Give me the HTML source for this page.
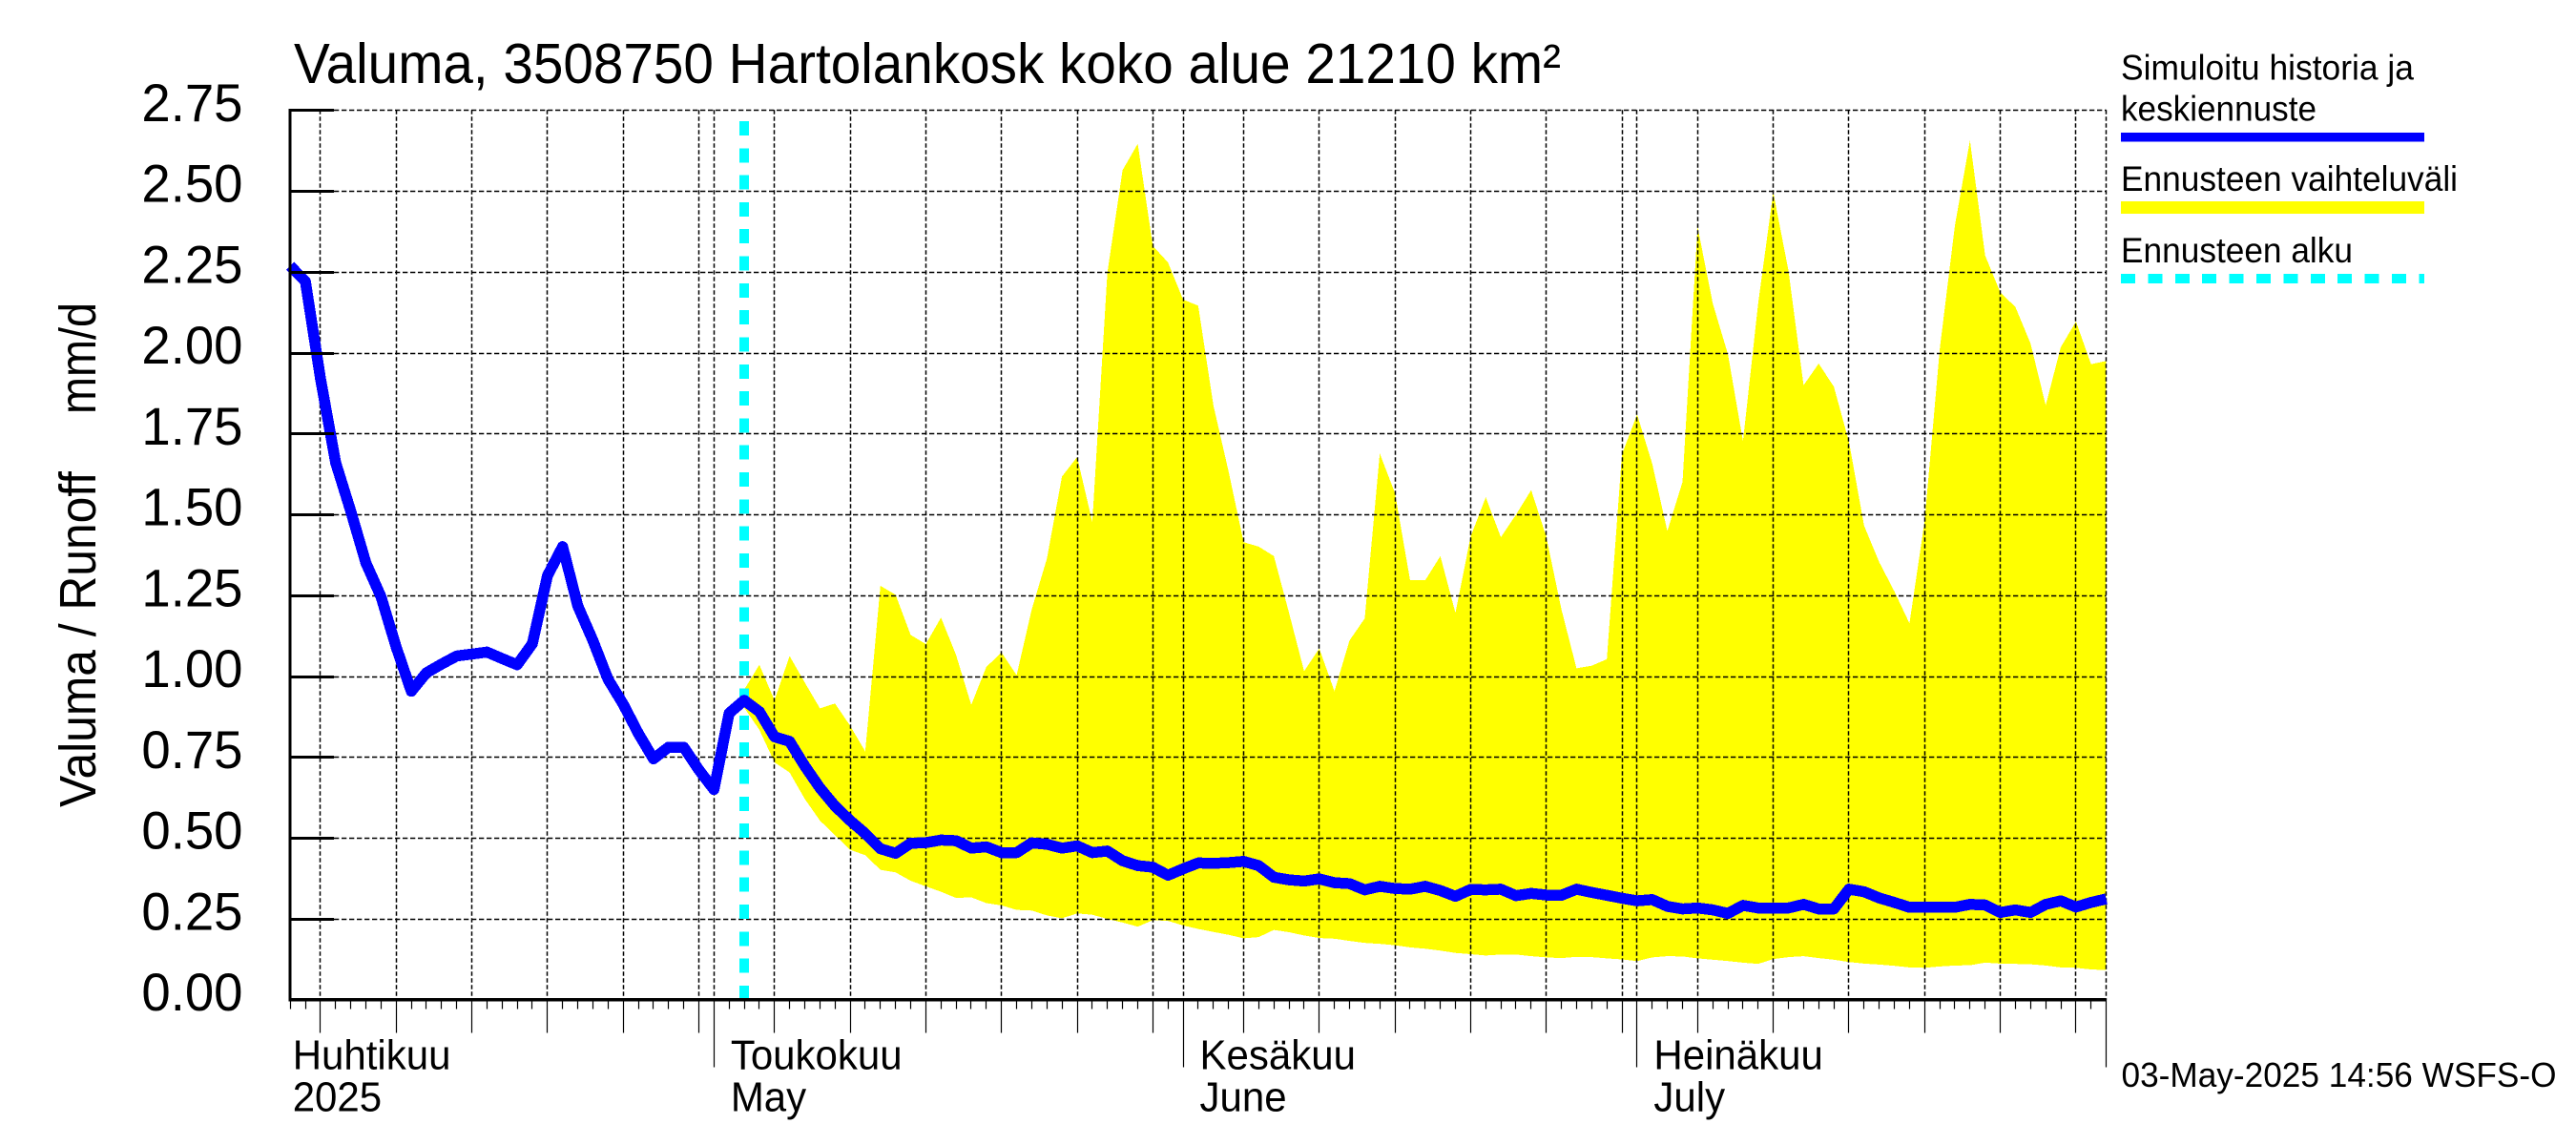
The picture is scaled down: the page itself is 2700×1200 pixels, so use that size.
<!DOCTYPE html>
<html lang="fi">
<head>
<meta charset="utf-8">
<title>Valuma 3508750 Hartolankosk</title>
<style>
  html, body { margin: 0; padding: 0; background: #fff; }
  body { width: 2700px; height: 1200px; overflow: hidden; }
  svg { display: block; }
  text { font-family: "Liberation Sans", Arial, sans-serif; fill: #000; }
</style>
</head>
<body>
<svg id="chart" xmlns="http://www.w3.org/2000/svg" width="2700" height="1200" viewBox="0 0 2700 1200">
  <rect x="0" y="0" width="2700" height="1200" fill="#fff"/>
  <g id="band-layer"></g>
  <g id="grid-layer"></g>
  <g id="start-layer"></g>
  <g id="line-layer"></g>
  <g id="axis-layer"></g>

  <text x="308" y="87" font-size="59" textLength="1328" lengthAdjust="spacingAndGlyphs">Valuma, 3508750 Hartolankosk koko alue 21210 km²</text>
  <text transform="translate(100 846) rotate(-90)" font-size="53.5" textLength="352" lengthAdjust="spacingAndGlyphs">Valuma / Runoff</text>
  <text transform="translate(100 434) rotate(-90)" font-size="53.5" textLength="117" lengthAdjust="spacingAndGlyphs">mm/d</text>

  <g>
    <text x="2223" y="83.5" font-size="37" textLength="307" lengthAdjust="spacingAndGlyphs">Simuloitu historia ja</text>
    <text x="2223" y="126.5" font-size="37" textLength="205" lengthAdjust="spacingAndGlyphs">keskiennuste</text>
    <rect x="2223" y="139" width="318" height="9.5" fill="#0000ff" shape-rendering="crispEdges"/>
    <text x="2223" y="200" font-size="37" textLength="353" lengthAdjust="spacingAndGlyphs">Ennusteen vaihteluväli</text>
    <rect x="2223" y="211" width="318" height="13" fill="#ffff00" shape-rendering="crispEdges"/>
    <text x="2223" y="275" font-size="37" textLength="243" lengthAdjust="spacingAndGlyphs">Ennusteen alku</text>
    <line x1="2223" y1="292" x2="2541" y2="292" stroke="#00ffff" stroke-width="10" stroke-dasharray="15 13.4" shape-rendering="crispEdges"/>
  </g>

  <text x="2223.5" y="1139" font-size="36.5" textLength="456" lengthAdjust="spacingAndGlyphs">03-May-2025 14:56 WSFS-O</text>
</svg>

<script>
// ---- chart data ----
const yTickLabels = ["0.00","0.25","0.50","0.75","1.00","1.25","1.50","1.75","2.00","2.25","2.50","2.75"];
const yTickValues = [0,0.25,0.5,0.75,1,1.25,1.5,1.75,2,2.25,2.5,2.75];
const monthLabels = ["Huhtikuu","Toukokuu","Kesäkuu","Heinäkuu"];
const monthSubLabels = ["2025","May","June","July"];
const monthLabelDays = [0,28,59,89];
const startDate = [2025,3,3];        // 3 April 2025 (first day on the axis)
const dayCount = 120;                // days across the x axis
const forecastStartDay = 30;         // 3 May 2025
const bandFirstDay = 29;

// simulated history and mean forecast, mm/d, one per day from 3 April
const simulatedValues = [
 2.268,2.22,1.92,1.66,1.51,1.35,1.245,1.09,0.953,1.01,
 1.037,1.062,1.068,1.074,1.054,1.035,1.10,1.31,1.40,1.217,
 1.11,0.99,0.913,0.823,0.744,0.78,0.78,0.71,0.649,0.885,
 0.925,0.89,0.812,0.798,0.722,0.654,0.598,0.553,0.513,0.466,
 0.452,0.483,0.485,0.493,0.491,0.468,0.472,0.454,0.454,0.484,
 0.48,0.468,0.475,0.454,0.459,0.429,0.414,0.409,0.384,0.404,
 0.422,0.421,0.423,0.427,0.414,0.378,0.37,0.366,0.373,0.361,
 0.358,0.339,0.35,0.343,0.341,0.35,0.337,0.319,0.34,0.339,
 0.341,0.321,0.328,0.323,0.322,0.341,0.331,0.322,0.313,0.305,
 0.309,0.288,0.28,0.283,0.277,0.266,0.291,0.283,0.283,0.283,
 0.294,0.28,0.28,0.341,0.333,0.314,0.3,0.285,0.285,0.285,
 0.285,0.294,0.292,0.269,0.277,0.269,0.294,0.305,0.286,0.3,0.311
];

// forecast range upper edge, from bandFirstDay
const bandUpperValues = [
 0.885,0.958,1.035,0.925,1.062,0.98,0.90,0.915,0.846,0.767,
 1.279,1.251,1.127,1.099,1.181,1.065,0.911,1.028,1.073,1.003,1.206,
 1.363,1.617,1.677,1.476,2.248,2.564,2.646,2.33,2.279,2.164,
 2.145,1.837,1.634,1.414,1.4,1.371,1.195,1.015,1.085,0.953,
 1.11,1.178,1.688,1.566,1.296,1.296,1.371,1.195,1.431,1.553,
 1.429,1.499,1.575,1.431,1.206,1.024,1.032,1.052,1.685,1.809,
 1.656,1.448,1.6,2.389,2.152,1.995,1.726,2.152,2.496,2.254,
 1.899,1.966,1.895,1.724,1.465,1.352,1.262,1.163,1.48,2.01,
 2.393,2.656,2.3,2.186,2.141,2.028,1.837,2.017,2.096,1.964,1.974
];

// forecast range lower edge, from bandFirstDay
const bandLowerValues = [
 0.885,0.902,0.834,0.733,0.702,0.62,0.553,0.508,0.463,0.446,
 0.401,0.393,0.367,0.35,0.333,0.314,0.316,0.298,0.291,0.277,0.275,
 0.26,0.251,0.266,0.262,0.249,0.238,0.225,0.245,0.243,0.229,
 0.218,0.209,0.2,0.189,0.193,0.215,0.208,0.198,0.19,0.188,
 0.181,0.175,0.172,0.168,0.161,0.157,0.151,0.144,0.14,0.136,
 0.139,0.139,0.134,0.13,0.128,0.132,0.131,0.127,0.124,0.119,
 0.13,0.134,0.133,0.127,0.123,0.119,0.114,0.11,0.125,0.131,
 0.134,0.128,0.123,0.116,0.111,0.108,0.104,0.099,0.098,0.102,
 0.105,0.106,0.114,0.111,0.11,0.109,0.105,0.099,0.098,0.093,0.091
];

// ---- axis functions ----
const plotLeft = 304.2, plotRight = 2207.6, plotTop = 115.3, plotBottom = 1047.5;
const yMax = 2.75;
function xScale(day) { return plotLeft + (plotRight - plotLeft) * day / dayCount; }
function yScale(value) { return plotBottom - (plotBottom - plotTop) * value / yMax; }

const SVG_NS = "http://www.w3.org/2000/svg";
function make(tag, parent, attrs) {
  const el = document.createElementNS(SVG_NS, tag);
  for (const k in attrs) el.setAttribute(k, attrs[k]);
  parent.appendChild(el);
  return el;
}
// keep a taller glyph height while holding the advance width of a smaller size
function condense(el, ratio) {
  const w = el.getComputedTextLength();
  el.setAttribute("textLength", (w * ratio).toFixed(1));
  el.setAttribute("lengthAdjust", "spacingAndGlyphs");
}
const bandLayer = document.getElementById("band-layer");
const gridLayer = document.getElementById("grid-layer");
const startLayer = document.getElementById("start-layer");
const lineLayer = document.getElementById("line-layer");
const axisLayer = document.getElementById("axis-layer");

// forecast range band
const bandPoints = [];
bandUpperValues.forEach(function (v, i) { bandPoints.push(xScale(bandFirstDay + i).toFixed(1) + "," + yScale(v).toFixed(1)); });
for (let i = bandLowerValues.length - 1; i >= 0; i--) { bandPoints.push(xScale(bandFirstDay + i).toFixed(1) + "," + yScale(bandLowerValues[i]).toFixed(1)); }
const band = make("polygon", bandLayer, { points: bandPoints.join(" "), fill: "#ffff00", "shape-rendering": "crispEdges" });



// horizontal grid and y ticks
yTickValues.forEach(function (v, i) {
  const y = Math.round(yScale(v)) + 0.5;
  if (v > 0) {
    const g = make("line", gridLayer, { x1: 350, y1: y, x2: plotRight, y2: y, stroke: "#000", "stroke-width": 1.5, "stroke-dasharray": "5.3 2.7" });
    
    
    const t = make("line", axisLayer, { x1: plotLeft, y1: y, x2: 350, y2: y, stroke: "#000", "stroke-width": 3, "shape-rendering": "crispEdges" });
    
    
  }
  const label = make("text", axisLayer, { x: 254.5, y: yScale(v) + 11.5, "text-anchor": "end", "font-size": 56 });
  label.textContent = yTickLabels[i];
  
  
  condense(label, 54.5 / 56);
});

// vertical grid and x ticks, driven by the calendar
for (let d = 0; d <= dayCount; d++) {
  const date = new Date(Date.UTC(startDate[0], startDate[1], startDate[2] + d));
  const dom = date.getUTCDate();
  const isMonth = dom === 1;
  const isFive = dom % 5 === 0;
  const x = Math.round(xScale(d) - 0.5) + 0.5;
  const len = isMonth ? 71 : (isFive ? 35 : 10);
  const tick = make("line", axisLayer, { x1: x, y1: plotBottom, x2: x, y2: plotBottom + len, stroke: "#000", "stroke-width": 1.2 });
  
  
  if (isMonth || isFive) {
    const g = make("line", gridLayer, { x1: x, y1: plotTop, x2: x, y2: plotBottom, stroke: "#000", "stroke-width": 1.5, "stroke-dasharray": "4.5 2.5" });
    
    
  }
}

// forecast start marker
const startX = xScale(forecastStartDay);
const startLine = make("line", startLayer, { x1: startX, y1: 127, x2: startX, y2: plotBottom + 1, stroke: "#00ffff", "stroke-width": 10, "stroke-dasharray": "15 13.31", "shape-rendering": "crispEdges" });



// simulated line
const linePoints = simulatedValues.map(function (v, i) { return xScale(i).toFixed(1) + "," + yScale(v).toFixed(1); }).join(" ");
const simLine = make("polyline", lineLayer, { points: linePoints, fill: "none", stroke: "#0000ff", "stroke-width": 11.5, "stroke-linejoin": "round", "shape-rendering": "crispEdges" });



// axis lines
const yAxis = make("line", axisLayer, { x1: plotLeft, y1: plotTop - 1.5, x2: plotLeft, y2: plotBottom + 1.5, stroke: "#000", "stroke-width": 3, "shape-rendering": "crispEdges" });


const xAxis = make("line", axisLayer, { x1: plotLeft - 1.5, y1: plotBottom, x2: plotRight, y2: plotBottom, stroke: "#000", "stroke-width": 3.5, "shape-rendering": "crispEdges" });



// month labels
monthLabels.forEach(function (name, i) {
  const x = xScale(monthLabelDays[i]) + (i === 0 ? 2.5 : 17.5);
  const top = make("text", axisLayer, { x: x, y: 1120.5, "font-size": 44 });
  top.textContent = name;
  
  
  condense(top, 42 / 44);
  const sub = make("text", axisLayer, { x: x, y: 1164.5, "font-size": 44 });
  sub.textContent = monthSubLabels[i];
  
  
  condense(sub, 42 / 44);
});
</script>
</body>
</html>
